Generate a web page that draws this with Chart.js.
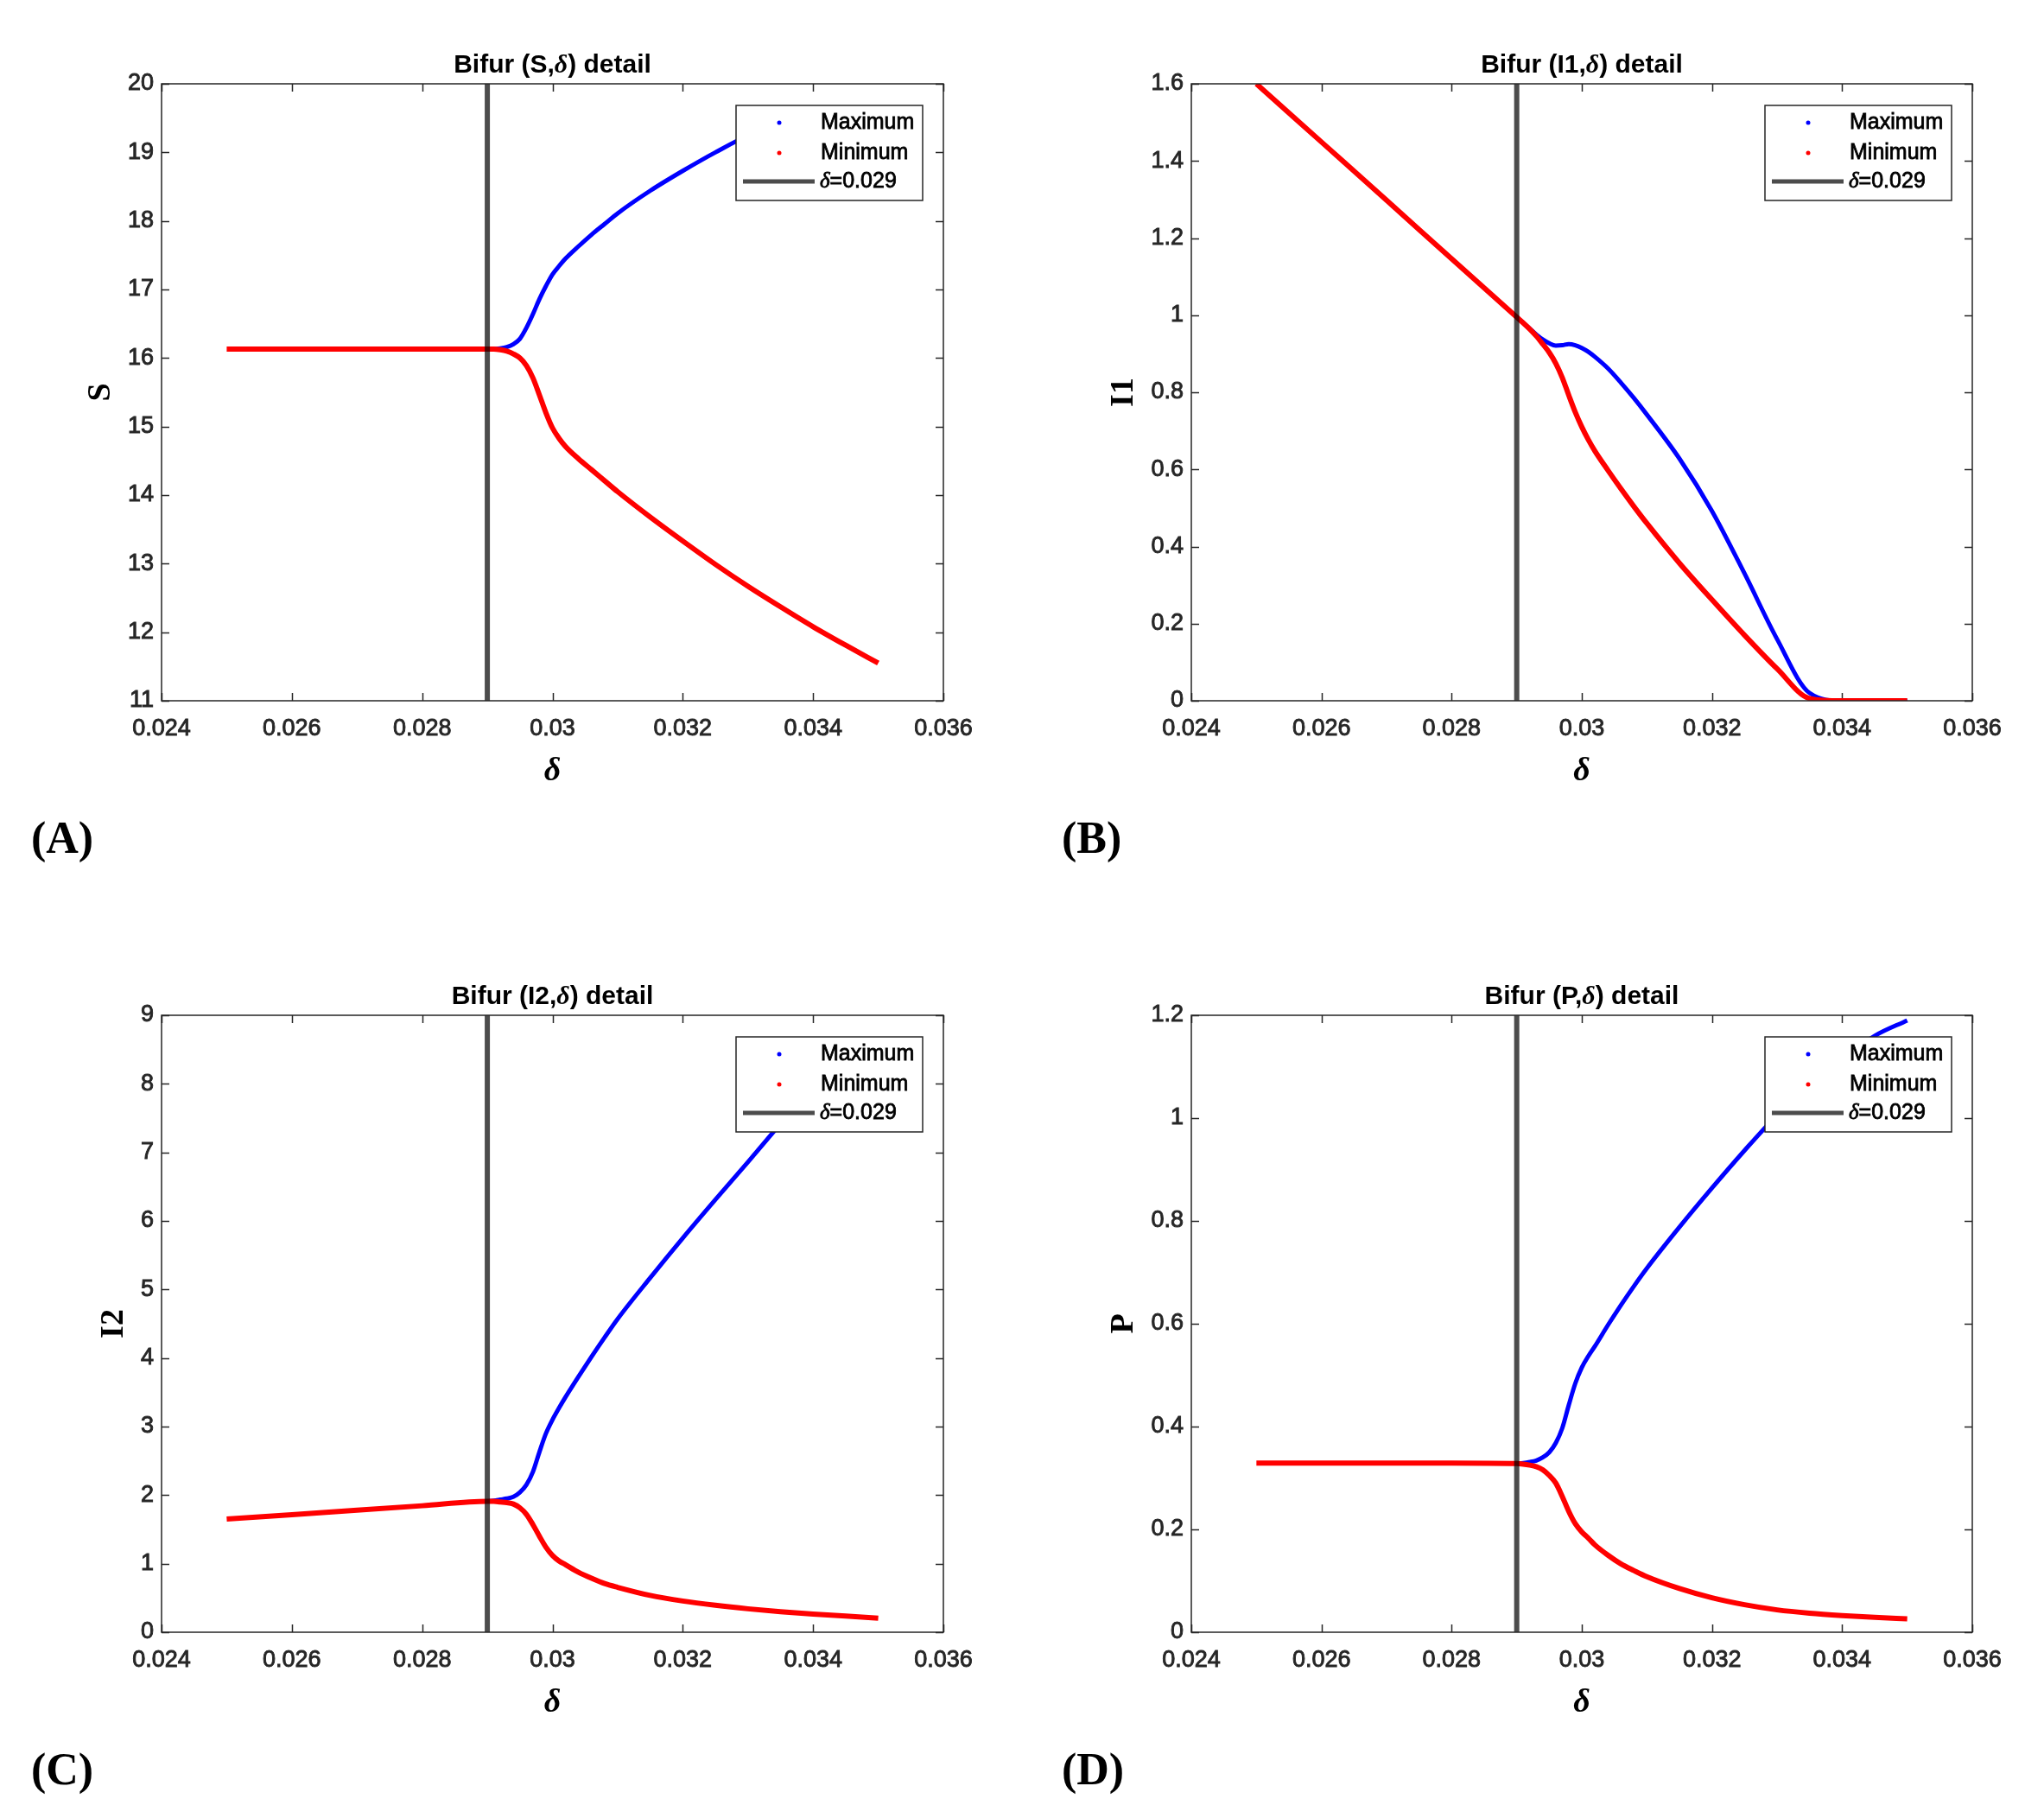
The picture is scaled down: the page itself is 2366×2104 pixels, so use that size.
<!DOCTYPE html>
<html>
<head>
<meta charset="utf-8">
<script src="https://cdn.jsdelivr.net/npm/chart.js@4.4.1/dist/chart.umd.min.js"></script>
<style>
  html, body { margin: 0; padding: 0; background: #fff; }
  #fig { position: relative; width: 2366px; height: 2104px; }
  .panel { position: absolute; width: 1183px; height: 1052px; }
</style>
</head>
<body>
<div id="fig">
  <div class="panel" style="left:0;top:0"><canvas id="chartS"></canvas></div>
  <div class="panel" style="left:1183px;top:0"><canvas id="chartI1"></canvas></div>
  <div class="panel" style="left:0;top:1052px"><canvas id="chartI2"></canvas></div>
  <div class="panel" style="left:1183px;top:1052px"><canvas id="chartP"></canvas></div>
</div>
<script>
// delta values (x axis)
const preDelta = [0.025, 0.026, 0.027, 0.028];
const branchDelta = [0.029, 0.0291, 0.0292, 0.0293, 0.0294, 0.0295, 0.0296, 0.0297, 0.0298, 0.0299,
                     0.0300, 0.0301, 0.0302, 0.0304, 0.0306, 0.0308, 0.0310, 0.0315, 0.0320,
                     0.0325, 0.0330, 0.0335, 0.0340, 0.0345, 0.0350];
const minDelta = preDelta.concat(branchDelta);
const hopfDelta = 0.029;

const xTicks = [0.024, 0.026, 0.028, 0.030, 0.032, 0.034, 0.036];
const xTickLabels = ['0.024', '0.026', '0.028', '0.03', '0.032', '0.034', '0.036'];

// (A) S
const sMax = [16.13, 16.13, 16.14, 16.16, 16.20, 16.28, 16.44, 16.64, 16.86, 17.05,
              17.22, 17.34, 17.45, 17.63, 17.80, 17.955, 18.11, 18.44, 18.73,
              19.00, 19.24, 19.38, 19.48, 19.55, 19.60];
const sMin = [16.13, 16.13, 16.13, 16.13,
              16.13, 16.13, 16.12, 16.10, 16.06, 16.00, 15.89, 15.71, 15.46, 15.20,
              14.98, 14.83, 14.71, 14.53, 14.37, 14.21, 14.05, 13.68, 13.33,
              12.99, 12.67, 12.37, 12.08, 11.81, 11.55];
const sTicks = [11, 12, 13, 14, 15, 16, 17, 18, 19, 20];
const sTickLabels = ['11', '12', '13', '14', '15', '16', '17', '18', '19', '20'];

// (B) I1
const i1Max = [0.995, 0.980, 0.965, 0.950, 0.937, 0.927, 0.921, 0.922, 0.925, 0.922,
               0.915, 0.905, 0.892, 0.862, 0.825, 0.785, 0.742, 0.628, 0.492,
               0.330, 0.160, 0.020, 0, 0, 0];
const i1Min = [1.600, 1.449, 1.298, 1.146,
               0.995, 0.980, 0.964, 0.946, 0.925, 0.903, 0.875, 0.838, 0.792, 0.748,
               0.710, 0.677, 0.648, 0.598, 0.550, 0.504, 0.460, 0.357, 0.262,
               0.170, 0.083, 0.006, 0, 0, 0];
const i1Ticks = [0, 0.2, 0.4, 0.6, 0.8, 1, 1.2, 1.4, 1.6];
const i1TickLabels = ['0', '0.2', '0.4', '0.6', '0.8', '1', '1.2', '1.4', '1.6'];

// (C) I2
const i2Max = [1.91, 1.92, 1.935, 1.95, 1.975, 2.04, 2.15, 2.34, 2.63, 2.90,
               3.10, 3.27, 3.43, 3.73, 4.02, 4.30, 4.57, 5.17, 5.75,
               6.31, 6.86, 7.42, 7.97, 8.36, 8.65];
const i2Min = [1.650, 1.715, 1.780, 1.845,
               1.910, 1.910, 1.900, 1.890, 1.870, 1.815, 1.720, 1.570, 1.400, 1.240,
               1.120, 1.040, 0.985, 0.875, 0.787, 0.710, 0.655, 0.537, 0.455,
               0.393, 0.342, 0.300, 0.266, 0.236, 0.206];
const i2Ticks = [0, 1, 2, 3, 4, 5, 6, 7, 8, 9];
const i2TickLabels = ['0', '1', '2', '3', '4', '5', '6', '7', '8', '9'];

// (D) P
const pMax = [0.328, 0.329, 0.331, 0.334, 0.340, 0.350, 0.368, 0.397, 0.442, 0.484,
              0.515, 0.537, 0.556, 0.597, 0.636, 0.673, 0.708, 0.788, 0.864,
              0.937, 1.006, 1.065, 1.115, 1.160, 1.190];
const pMin = [0.329, 0.329, 0.329, 0.329,
              0.328, 0.327, 0.325, 0.322, 0.316, 0.305, 0.290, 0.264, 0.235, 0.211,
              0.195, 0.183, 0.170, 0.150, 0.133, 0.120, 0.108, 0.085, 0.067,
              0.0535, 0.0435, 0.037, 0.0325, 0.029, 0.026];
const pTicks = [0, 0.2, 0.4, 0.6, 0.8, 1, 1.2];
const pTickLabels = ['0', '0.2', '0.4', '0.6', '0.8', '1', '1.2'];

Chart.defaults.font.family = '"Liberation Sans", Arial, sans-serif';
Chart.defaults.color = '#262626';

const SANS = '"Liberation Sans", Arial, sans-serif';
const SERIF = '"Liberation Serif", "Times New Roman", serif';
const AXIS_COLOR = '#262626';

function drawRich(ctx, parts, x, y, align, stroke) {
  let w = 0;
  parts.forEach(p => { ctx.font = p[1]; w += ctx.measureText(p[0]).width; });
  let cx = align === 'center' ? x - w / 2 : x;
  parts.forEach(p => {
    ctx.font = p[1];
    if (stroke) ctx.strokeText(p[0], cx, y);
    ctx.fillText(p[0], cx, y);
    cx += ctx.measureText(p[0]).width;
  });
}

// box, inward ticks, titles, legend and panel letter in MATLAB style
const matlabFrame = {
  id: 'matlabFrame',
  beforeDatasetsDraw(chart) {
    const ctx = chart.ctx, a = chart.chartArea;
    const xs = chart.scales.x, ys = chart.scales.y;
    ctx.save();
    ctx.strokeStyle = AXIS_COLOR;
    ctx.lineWidth = 1.5;
    ctx.beginPath();
    xs.ticks.forEach(t => {
      const px = Math.round(xs.getPixelForValue(t.value)) + 0.5;
      ctx.moveTo(px, a.bottom); ctx.lineTo(px, a.bottom - 9);
      ctx.moveTo(px, a.top); ctx.lineTo(px, a.top + 9);
    });
    ys.ticks.forEach(t => {
      const py = Math.round(ys.getPixelForValue(t.value)) + 0.5;
      ctx.moveTo(a.left, py); ctx.lineTo(a.left + 9, py);
      ctx.moveTo(a.right, py); ctx.lineTo(a.right - 9, py);
    });
    ctx.stroke();
    ctx.restore();
  },
  afterDraw(chart, args, opts) {
    const ctx = chart.ctx, a = chart.chartArea;
    const ys = chart.scales.y;
    ctx.save();
    // frame
    ctx.strokeStyle = AXIS_COLOR;
    ctx.lineWidth = 1.5;
    ctx.strokeRect(a.left, a.top, a.right - a.left, a.bottom - a.top);

    // legend
    const lw = 216, lh = 110;
    const lx = a.right - 24 - lw, ly = a.top + 25;
    ctx.fillStyle = '#ffffff';
    ctx.fillRect(lx, ly, lw, lh);
    ctx.strokeRect(lx, ly, lw, lh);
    const rows = [ly + 20, ly + 55, ly + 88];
    ctx.fillStyle = '#0000ff';
    ctx.beginPath(); ctx.arc(lx + 50, rows[0], 2.5, 0, Math.PI * 2); ctx.fill();
    ctx.fillStyle = '#ff0000';
    ctx.beginPath(); ctx.arc(lx + 50, rows[1], 2.5, 0, Math.PI * 2); ctx.fill();
    ctx.strokeStyle = 'rgba(0,0,0,0.7)';
    ctx.lineWidth = 5;
    ctx.beginPath(); ctx.moveTo(lx + 8, rows[2]); ctx.lineTo(lx + 91, rows[2]); ctx.stroke();
    ctx.fillStyle = '#000000';
    ctx.strokeStyle = '#000000';
    ctx.lineWidth = 0.8;
    ctx.textBaseline = 'middle';
    ctx.textAlign = 'left';
    drawRich(ctx, [['Maximum', '25px ' + SANS]], lx + 98, rows[0], 'left', true);
    drawRich(ctx, [['Minimum', '25px ' + SANS]], lx + 98, rows[1], 'left', true);
    drawRich(ctx, [['δ', 'italic 25px ' + SERIF], ['=0.029', '25px ' + SANS]], lx + 97, rows[2], 'left', true);

    // title
    const cx = (a.left + a.right) / 2;
    ctx.textBaseline = 'alphabetic';
    drawRich(ctx, [
      ['Bifur (' + opts.varName + ',', 'bold 30px ' + SANS],
      ['δ', 'bold italic 30px ' + SERIF],
      [') detail', 'bold 30px ' + SANS]
    ], cx, a.top - 13, 'center', false);

    // x label
    ctx.textAlign = 'center';
    ctx.font = 'bold italic 38px ' + SERIF;
    ctx.fillText('δ', cx, a.bottom + 92);

    // y label
    ctx.font = '27px ' + SANS;
    let widest = 0;
    ys.ticks.forEach(t => { widest = Math.max(widest, ctx.measureText(t.label).width); });
    ctx.save();
    ctx.translate(a.left - widest - 40, (a.top + a.bottom) / 2);
    ctx.rotate(-Math.PI / 2);
    ctx.font = 'bold 38px ' + SERIF;
    ctx.textBaseline = 'middle';
    ctx.fillText(opts.yLabel, 0, 0);
    ctx.restore();

    // panel letter
    ctx.textAlign = 'left';
    ctx.textBaseline = 'alphabetic';
    ctx.font = 'bold 52px ' + SERIF;
    ctx.fillText(opts.letter, opts.letterX, a.bottom + 176);
    ctx.restore();
  }
};

function makeBifur(id, p) {
  const pts = (xs, ys) => xs.map((d, i) => ({ x: d, y: ys[i] }));
  const yMin = p.yTicks[0], yMax = p.yTicks[p.yTicks.length - 1];
  new Chart(document.getElementById(id), {
    type: 'line',
    data: {
      datasets: [
        { label: 'δ=0.029', data: [{ x: hopfDelta, y: yMin }, { x: hopfDelta, y: yMax }],
          borderColor: 'rgba(0,0,0,0.7)', borderWidth: 6, pointRadius: 0, clip: 0, order: 0 },
        { label: 'Minimum', data: pts(minDelta, p.minVals), borderColor: '#ff0000',
          borderWidth: 6, pointRadius: 0, cubicInterpolationMode: 'monotone', order: 1 },
        { label: 'Maximum', data: pts(branchDelta, p.maxVals), borderColor: '#0000ff',
          borderWidth: 5, pointRadius: 0, cubicInterpolationMode: 'monotone', order: 2 }
      ]
    },
    options: {
      responsive: true,
      maintainAspectRatio: false,
      devicePixelRatio: 1,
      animation: false,
      events: [],
      layout: { padding: p.pad },
      plugins: {
        legend: { display: false },
        tooltip: { enabled: false },
        matlabFrame: { varName: p.varName, yLabel: p.yLabel, letter: p.letter, letterX: p.letterX }
      },
      scales: {
        x: {
          type: 'linear', min: 0.024, max: 0.036,
          grid: { display: false, drawTicks: false },
          border: { display: false },
          afterBuildTicks: s => { s.ticks = xTicks.map(v => ({ value: v })); },
          afterFit: s => { s.height = 100; },
          ticks: {
            autoSkip: false, maxRotation: 0, padding: 16,
            font: { size: 27 }, color: AXIS_COLOR,
            textStrokeColor: AXIS_COLOR, textStrokeWidth: 0.9,
            callback: (v, i) => xTickLabels[i]
          }
        },
        y: {
          type: 'linear', min: yMin, max: yMax,
          grid: { display: false, drawTicks: false },
          border: { display: false },
          afterBuildTicks: s => { s.ticks = p.yTicks.map(v => ({ value: v })); },
          afterFit: s => { s.width = 100; },
          ticks: {
            autoSkip: false, padding: 9,
            font: { size: 27 }, color: AXIS_COLOR,
            textStrokeColor: AXIS_COLOR, textStrokeWidth: 0.9,
            callback: (v, i) => p.yTickLabels[i]
          }
        }
      }
    },
    plugins: [matlabFrame]
  });
}

makeBifur('chartS', { varName: 'S', yLabel: 'S', letter: '(A)', letterX: 36,
  maxVals: sMax, minVals: sMin, yTicks: sTicks, yTickLabels: sTickLabels,
  pad: { left: 87, right: 91, top: 97, bottom: 141 } });
makeBifur('chartI1', { varName: 'I1', yLabel: 'I1', letter: '(B)', letterX: 46,
  maxVals: i1Max, minVals: i1Min, yTicks: i1Ticks, yTickLabels: i1TickLabels,
  pad: { left: 96, right: 83, top: 97, bottom: 141 } });
makeBifur('chartI2', { varName: 'I2', yLabel: 'I2', letter: '(C)', letterX: 36,
  maxVals: i2Max, minVals: i2Min, yTicks: i2Ticks, yTickLabels: i2TickLabels,
  pad: { left: 87, right: 91, top: 123, bottom: 115 } });
makeBifur('chartP', { varName: 'P', yLabel: 'P', letter: '(D)', letterX: 46,
  maxVals: pMax, minVals: pMin, yTicks: pTicks, yTickLabels: pTickLabels,
  pad: { left: 96, right: 83, top: 123, bottom: 115 } });
</script>
</body>
</html>
